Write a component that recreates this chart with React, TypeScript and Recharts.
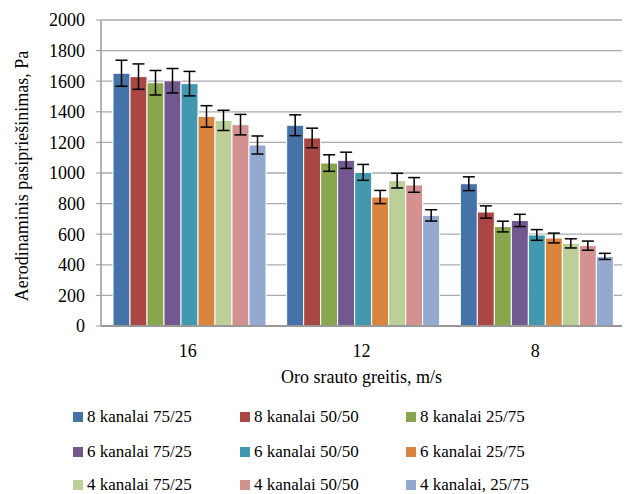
import React from 'react';
import { BarChart, Bar, XAxis, YAxis, CartesianGrid, ErrorBar, Label } from 'recharts';

const categories = ['16', '12', '8'];
const seriesNames = [
  '8 kanalai 75/25', '8 kanalai 50/50', '8 kanalai 25/75',
  '6 kanalai 75/25', '6 kanalai 50/50', '6 kanalai 25/75',
  '4 kanalai 75/25', '4 kanalai 50/50', '4 kanalai, 25/75',
];
const colors = ['#4572A7', '#AA4643', '#89A54E', '#71588F', '#4198AF', '#DB843D', '#BCCF98', '#D39290', '#93A9D0'];

// values per series across categories 16, 12, 8
const s8_75 = [1652, 1312, 930];
const s8_50 = [1630, 1229, 745];
const s8_25 = [1590, 1065, 650];
const s6_75 = [1603, 1083, 690];
const s6_50 = [1584, 1004, 595];
const s6_25 = [1370, 843, 575];
const s4_75 = [1344, 950, 540];
const s4_50 = [1316, 922, 525];
const s4_25 = [1183, 723, 455];

const e8_75 = [85, 68, 45];
const e8_50 = [83, 64, 40];
const e8_25 = [80, 54, 35];
const e6_75 = [80, 53, 40];
const e6_50 = [80, 52, 35];
const e6_25 = [70, 43, 32];
const e4_75 = [66, 48, 30];
const e4_50 = [67, 48, 30];
const e4_25 = [59, 37, 20];

const values = [s8_75, s8_50, s8_25, s6_75, s6_50, s6_25, s4_75, s4_50, s4_25];
const errors = [e8_75, e8_50, e8_25, e6_75, e6_50, e6_25, e4_75, e4_50, e4_25];
const yTicks = [0, 200, 400, 600, 800, 1000, 1200, 1400, 1600, 1800, 2000];

const data = categories.map((c, ci) => {
  const row: any = { cat: c };
  values.forEach((arr, si) => {
    row['v' + si] = arr[ci];
    row['e' + si] = errors[si][ci];
  });
  return row;
});

const FONT = 'Liberation Serif, Tinos, DejaVu Serif, serif';

export default function App() {
  return (
    <div style={{ position: 'absolute', left: 0, top: 0, width: 627, height: 494, background: '#fff', fontFamily: FONT }}>
      <BarChart
        width={627}
        height={494}
        data={data}
        margin={{ top: 20, right: 5, bottom: 108, left: 0 }}
        barCategoryGap={12}
        barGap={0}
        style={{ fontFamily: FONT }}
      >
        <CartesianGrid vertical={false} stroke="#ababab" strokeWidth={1.3} />
        <XAxis
          dataKey="cat"
          height={60}
          tickLine={false}
          tickSize={0}
          tickMargin={18}
          axisLine={{ stroke: '#999', strokeWidth: 2 }}
          tick={{ fill: '#000', fontSize: 18, fontFamily: FONT }}
        >
          <Label
            content={() => (
              <text x={361.5} y={383} textAnchor="middle" fill="#000" style={{ fontSize: 18, fontFamily: FONT }}>
                Oro srauto greitis, m/s
              </text>
            )}
          />
        </XAxis>
        <YAxis
          width={101}
          domain={[0, 2000]}
          ticks={yTicks}
          interval={0}
          tickSize={5}
          tickMargin={11}
          axisLine={{ stroke: '#999', strokeWidth: 1.5 }}
          tickLine={{ stroke: '#999' }}
          tick={{ fill: '#000', fontSize: 18, fontFamily: FONT }}
        >
          <Label
            content={() => (
              <text
                x={22}
                y={176}
                transform="rotate(-90 22 176)"
                textAnchor="middle"
                dominantBaseline="central"
                fill="#000"
                style={{ fontSize: 18, fontFamily: FONT }}
              >
                Aerodinaminis pasipriešinimas, Pa
              </text>
            )}
          />
        </YAxis>
        {seriesNames.map((name, si) => (
          <Bar
            key={name}
            name={name}
            dataKey={'v' + si}
            fill={colors[si]}
            stroke="#fff"
            strokeWidth={1}
            isAnimationActive={false}
          >
            <ErrorBar dataKey={'e' + si} width={6} stroke="#000" strokeWidth={1.5} />
          </Bar>
        ))}
      </BarChart>
      {seriesNames.map((name, si) => {
        const col = si % 3;
        const row = Math.floor(si / 3);
        const left = [73, 240, 406][col];
        const cy = [417, 452, 485][row];
        return (
          <div
            key={name}
            style={{ position: 'absolute', left, top: cy - 10, height: 20, display: 'flex', alignItems: 'center', whiteSpace: 'nowrap' }}
          >
            <span style={{ display: 'inline-block', width: 10, height: 10, background: colors[si], marginRight: 4 }} />
            <span style={{ fontSize: 17, fontFamily: FONT, color: '#000' }}>{name}</span>
          </div>
        );
      })}
    </div>
  );
}
